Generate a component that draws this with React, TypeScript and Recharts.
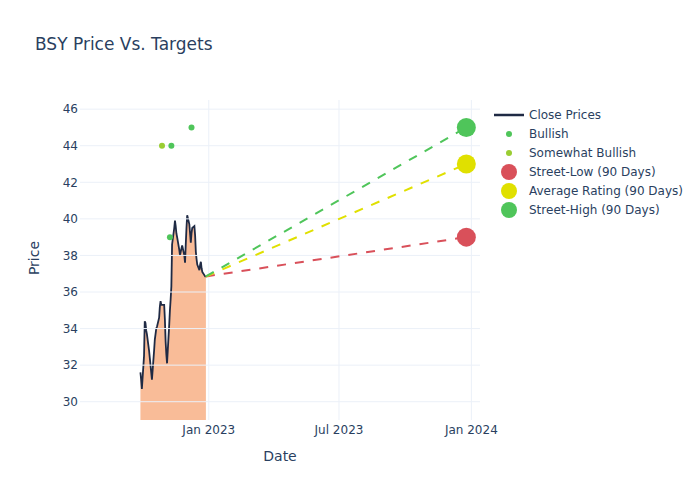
import {
  Area,
  ComposedChart,
  Line,
  ReferenceLine,
  Scatter,
  XAxis,
  YAxis,
} from "recharts";

// close prices
const closeDates = [
  "2022-09-28", "2022-09-29", "2022-09-30", "2022-10-03", "2022-10-04",
  "2022-10-05", "2022-10-06", "2022-10-07", "2022-10-10", "2022-10-11",
  "2022-10-12", "2022-10-13", "2022-10-14", "2022-10-17", "2022-10-18",
  "2022-10-19", "2022-10-20", "2022-10-21", "2022-10-24", "2022-10-25",
  "2022-10-26", "2022-10-27", "2022-10-28", "2022-10-31", "2022-11-01",
  "2022-11-02", "2022-11-03", "2022-11-04", "2022-11-07", "2022-11-08",
  "2022-11-09", "2022-11-10", "2022-11-11", "2022-11-14", "2022-11-15",
  "2022-11-16", "2022-11-17", "2022-11-18", "2022-11-21", "2022-11-22",
  "2022-11-23", "2022-11-25", "2022-11-28", "2022-11-29", "2022-11-30",
  "2022-12-01", "2022-12-02", "2022-12-05", "2022-12-06", "2022-12-07",
  "2022-12-08", "2022-12-09", "2022-12-12", "2022-12-13", "2022-12-14",
  "2022-12-15", "2022-12-16", "2022-12-19", "2022-12-20", "2022-12-21",
  "2022-12-22", "2022-12-23", "2022-12-27", "2022-12-28",
];
const closePrices = [
  31.6, 31.2, 30.7, 32.5, 34.4,
  34.3, 33.9, 33.7, 32.8, 32.4,
  32.0, 31.6, 31.2, 32.8, 33.4,
  33.7, 34.0, 34.1, 34.6, 35.2,
  35.5, 35.3, 35.3, 35.3, 34.5,
  33.3, 32.6, 32.1, 34.2, 35.0,
  35.6, 36.3, 38.6, 39.5, 39.9,
  39.6, 39.2, 39.0, 38.3, 38.0,
  38.2, 38.55, 38.0, 37.6, 38.6,
  39.5, 40.2, 39.7, 39.2, 38.7,
  39.2, 39.5, 39.6, 39.1, 38.2,
  37.8, 37.5, 37.2, 37.5, 37.65,
  37.3, 37.1, 36.85, 36.85,
];

const bullishDates = ["2022-11-08", "2022-11-10", "2022-12-08"];
const bullishTargets = [39, 44, 45];
const somewhatBullishDates = ["2022-10-28"];
const somewhatBullishTargets = [44];

const targetDate = "2023-12-25";
const streetLow = 39;
const averageRating = 43;
const streetHigh = 45;

const yTicks = [30, 32, 34, 36, 38, 40, 42, 44, 46];
const xTickDates = ["2023-01-01", "2023-07-01", "2024-01-01"];
const xTickLabels = ["Jan 2023", "Jul 2023", "Jan 2024"];

const ts = (d: string) => Date.parse(d + "T00:00:00Z");

const closeData = closeDates.map((d, i) => ({ t: ts(d), v: closePrices[i] }));
const bullishData = bullishDates.map((d, i) => ({ t: ts(d), v: bullishTargets[i] }));
const somewhatData = somewhatBullishDates.map((d, i) => ({
  t: ts(d),
  v: somewhatBullishTargets[i],
}));
const last = closeData[closeData.length - 1];
const lineTo = (v: number) => [last, { t: ts(targetDate), v }];
const xTicks = xTickDates.map(ts);

const FONT = "'DejaVu Sans', Verdana, sans-serif";
const TEXT = "#2a3f5f";
const GRID = "#ebf0f8";
const NAVY = "#1f2a44";
const RED = "#d9505a";
const YELLOW = "#e0e000";
const GREEN = "#4fc55a";
const YGREEN = "#9acd32";

const dot = (r: number, fill: string) => (p: any) =>
  <circle cx={p.cx} cy={p.cy} r={r} fill={fill} />;

const legendItems = [
  { label: "Close Prices", kind: "line", color: NAVY, r: 0 },
  { label: "Bullish", kind: "dot", color: GREEN, r: 3 },
  { label: "Somewhat Bullish", kind: "dot", color: YGREEN, r: 3 },
  { label: "Street-Low (90 Days)", kind: "dot", color: RED, r: 8 },
  { label: "Average Rating (90 Days)", kind: "dot", color: YELLOW, r: 8 },
  { label: "Street-High (90 Days)", kind: "dot", color: GREEN, r: 8 },
];

export default function App() {
  return (
    <div style={{ position: "absolute", left: 0, top: 0, width: 700, height: 500, background: "#fff" }}>
      <ComposedChart
        width={700}
        height={500}
        margin={{ top: 100, right: 220, bottom: 50, left: 30 }}
      >
        {yTicks.map((v) => (
          <ReferenceLine key={"y" + v} y={v} stroke={GRID} strokeWidth={1} />
        ))}
        {xTicks.map((t) => (
          <ReferenceLine key={"x" + t} x={t} stroke={GRID} strokeWidth={1} />
        ))}
        <XAxis
          dataKey="t"
          type="number"
          domain={[ts("2022-07-06"), ts("2024-01-13")]}
          allowDataOverflow
          ticks={xTicks}
          tickFormatter={(v) => xTickLabels[xTicks.indexOf(v)] ?? ""}
          axisLine={false}
          tickLine={false}
          tickSize={0}
          tickMargin={5}
          height={30}
          tick={{ fontSize: 12, fill: TEXT, fontFamily: FONT }}
        />
        <YAxis
          dataKey="v"
          type="number"
          domain={[29, 46.5]}
          allowDataOverflow
          ticks={yTicks}
          axisLine={false}
          tickLine={false}
          tickSize={0}
          tickMargin={2}
          width={50}
          tick={{ fontSize: 12, fill: TEXT, fontFamily: FONT }}
        />
        <Area
          data={closeData}
          dataKey="v"
          type="linear"
          stroke={NAVY}
          strokeWidth={1.8}
          fill="#f9bc98"
          fillOpacity={1}
          isAnimationActive={false}
        />
        <Scatter data={bullishData} dataKey="v" shape={dot(3, GREEN)} isAnimationActive={false} />
        <Scatter data={somewhatData} dataKey="v" shape={dot(3, YGREEN)} isAnimationActive={false} />
        <Line data={lineTo(streetLow)} dataKey="v" stroke={RED} strokeWidth={2} strokeDasharray="9 9" dot={false} isAnimationActive={false} />
        <Line data={lineTo(averageRating)} dataKey="v" stroke={YELLOW} strokeWidth={2} strokeDasharray="9 9" dot={false} isAnimationActive={false} />
        <Line data={lineTo(streetHigh)} dataKey="v" stroke={GREEN} strokeWidth={2} strokeDasharray="9 9" dot={false} isAnimationActive={false} />
        <Scatter data={[{ t: ts(targetDate), v: streetLow }]} dataKey="v" shape={dot(9.5, RED)} isAnimationActive={false} />
        <Scatter data={[{ t: ts(targetDate), v: averageRating }]} dataKey="v" shape={dot(9.5, YELLOW)} isAnimationActive={false} />
        <Scatter data={[{ t: ts(targetDate), v: streetHigh }]} dataKey="v" shape={dot(9.5, GREEN)} isAnimationActive={false} />
      </ComposedChart>
      <svg
        width={700}
        height={500}
        style={{ position: "absolute", left: 0, top: 0, pointerEvents: "none" }}
        fontFamily={FONT}
      >
        <text x={35} y={44} fontSize={17} fill={TEXT} dominantBaseline="central">
          BSY Price Vs. Targets
        </text>
        <text x={280} y={456} fontSize={14} fill={TEXT} textAnchor="middle" dominantBaseline="central">
          Date
        </text>
        <text
          x={34}
          y={258}
          fontSize={14}
          fill={TEXT}
          textAnchor="middle"
          dominantBaseline="central"
          transform="rotate(-90 34 258)"
        >
          Price
        </text>
        {legendItems.map((it, i) => {
          const y = 115 + i * 19;
          return (
            <g key={it.label}>
              {it.kind === "line" ? (
                <line x1={494} x2={524} y1={y} y2={y} stroke={NAVY} strokeWidth={2.5} />
              ) : (
                <circle cx={509} cy={y} r={it.r} fill={it.color} />
              )}
              <text x={529} y={y} fontSize={12} fill={TEXT} dominantBaseline="central">
                {it.label}
              </text>
            </g>
          );
        })}
      </svg>
    </div>
  );
}
